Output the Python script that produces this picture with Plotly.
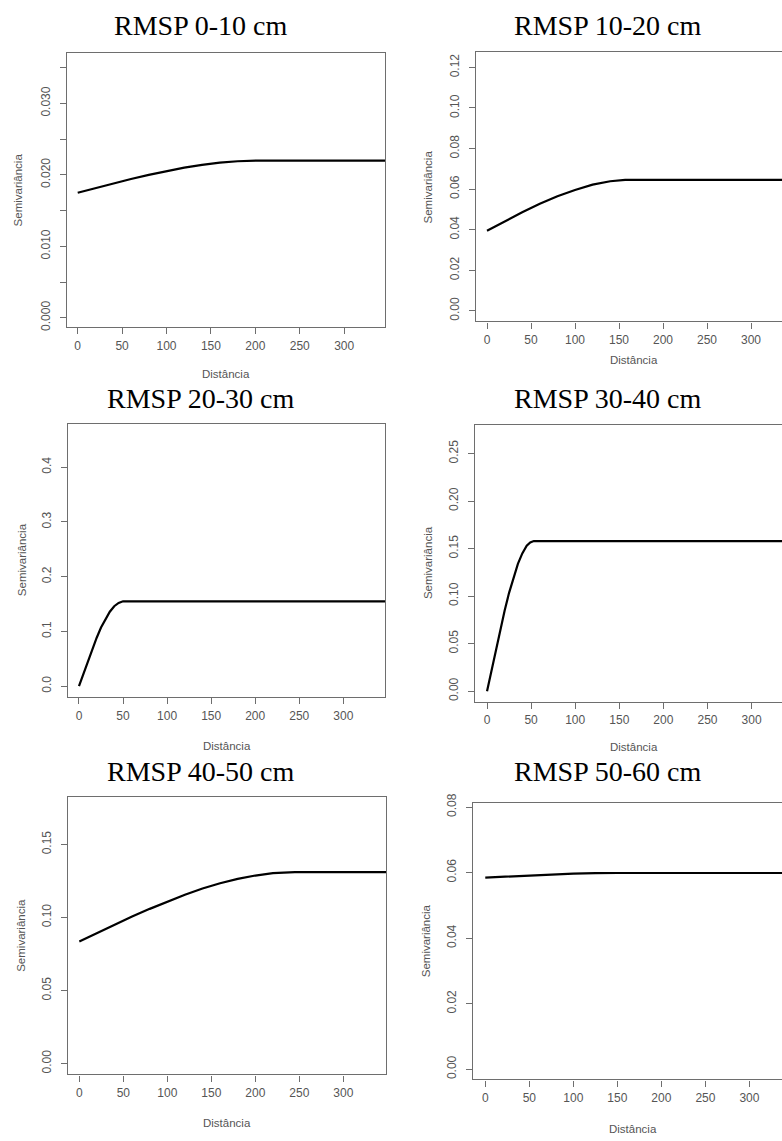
import plotly.graph_objects as go

W, H = 782, 1141

# Fitted semivariogram curves (distance in m, semivariance)
titles = ["RMSP 0-10 cm", "RMSP 10-20 cm", "RMSP 20-30 cm",
          "RMSP 30-40 cm", "RMSP 40-50 cm", "RMSP 50-60 cm"]

dist_0_10 = [0, 20, 40, 60, 80, 100, 120, 140, 160, 180, 200, 205, 350]
gamma_0_10 = [0.0175, 0.01816, 0.0188, 0.01942, 0.0200, 0.02053, 0.0210, 0.02139,
              0.0217, 0.0219, 0.0220, 0.0220, 0.0220]

dist_10_20 = [0, 20, 40, 60, 80, 100, 120, 140, 157, 350]
gamma_10_20 = [0.0395, 0.0442, 0.0486, 0.0528, 0.0565, 0.0596, 0.0622, 0.0639, 0.0646, 0.0646]

dist_20_30 = [0, 5, 10, 15, 20, 25, 30, 35, 40, 45, 50, 350]
gamma_20_30 = [0.0, 0.023, 0.046, 0.068, 0.088, 0.107, 0.123, 0.136, 0.146, 0.152, 0.155, 0.155]

dist_30_40 = [0, 5, 10, 15, 20, 25, 30, 35, 40, 45, 49, 53, 350]
gamma_30_40 = [0.0, 0.022, 0.044, 0.065, 0.085, 0.1035, 0.120, 0.134, 0.145, 0.153, 0.1565, 0.158, 0.158]

dist_40_50 = [0, 20, 40, 60, 80, 100, 120, 140, 160, 180, 200, 220, 245, 350]
gamma_40_50 = [0.0835, 0.0893, 0.0950, 0.1006, 0.1059, 0.1110, 0.1156, 0.1198, 0.1234,
               0.1264, 0.1287, 0.1303, 0.1310, 0.1310]

dist_50_60 = [0, 25, 50, 75, 100, 125, 150, 350]
gamma_50_60 = [0.0585, 0.05885, 0.0592, 0.0595, 0.0597, 0.05985, 0.0599, 0.0599]

x_ticks = [0, 50, 100, 150, 200, 250, 300]
y_ticks = [
    [0.000, 0.005, 0.010, 0.015, 0.020, 0.025, 0.030, 0.035],
    [0.00, 0.02, 0.04, 0.06, 0.08, 0.10, 0.12],
    [0.0, 0.1, 0.2, 0.3, 0.4],
    [0.00, 0.05, 0.10, 0.15, 0.20, 0.25],
    [0.00, 0.05, 0.10, 0.15],
    [0.00, 0.02, 0.04, 0.06, 0.08],
]
y_tick_text = [
    ["0.000", "", "0.010", "", "0.020", "", "0.030", ""],
    ["0.00", "0.02", "0.04", "0.06", "0.08", "0.10", "0.12"],
    ["0.0", "0.1", "0.2", "0.3", "0.4"],
    ["0.00", "0.05", "0.10", "0.15", "0.20", "0.25"],
    ["0.00", "0.05", "0.10", "0.15"],
    ["0.00", "0.02", "0.04", "0.06", "0.08"],
]

series = [(dist_0_10, gamma_0_10), (dist_10_20, gamma_10_20), (dist_20_30, gamma_20_30),
          (dist_30_40, gamma_30_40), (dist_40_50, gamma_40_50), (dist_50_60, gamma_50_60)]

# Plot boxes in pixels: left, top, right, bottom
boxes = [(66.7, 45, 385, 322), (476, 43.3, 782, 316),
         (67.7, 419.3, 385, 696), (475.3, 421, 782, 700.7),
         (68.3, 797.3, 386, 1077.7), (473.3, 802.7, 782, 1082.7)]
x_ranges = [(-12.4, 346), (-12.5, 335.2), (-12.8, 347.3),
            (-13.3, 334.5), (-12.5, 348.5), (-13.6, 337)]
y_ranges = [(-0.00134, 0.03698), (-0.0052, 0.1277), (-0.0199, 0.4796),
            (-0.0111, 0.2799), (-0.0074, 0.1823), (-0.0031, 0.0814)]
title_pos = [(200, 17), (607, 17), (200, 394), (607, 394), (200, 771.5), (607, 771.5)]
xlabel_pos = [(226, 369.5), (633.5, 355), (226.5, 745), (633.5, 746), (226.5, 1126.5), (632.5, 1133)]
ylabel_pos = [(18, 183.5), (427.5, 180), (21.5, 557), (427.5, 560), (21.5, 937), (426, 943)]

FRAME = "#6e6e6e"
TEXT = "#555555"
SANS = "Liberation Sans, Arial, sans-serif"
SERIF = "Liberation Serif, Times New Roman, serif"

fig = go.Figure()
annotations = []
layout = {}

for i, (xs, ys) in enumerate(series):
    n = "" if i == 0 else str(i + 1)
    fig.add_trace(go.Scatter(x=xs, y=ys, mode="lines", xaxis="x" + n, yaxis="y" + n,
                             line=dict(color="black", width=2.2), showlegend=False,
                             hoverinfo="skip"))
    l, t, r, b = boxes[i]
    right_col = i % 2 == 1
    layout["xaxis" + n] = dict(
        domain=[l / W, r / W], anchor="y" + n, range=list(x_ranges[i]),
        tickvals=x_ticks, ticks="outside", ticklen=6, tickwidth=1.2, tickcolor=FRAME,
        showline=True, linecolor=FRAME, linewidth=1.3, mirror=True,
        showgrid=False, zeroline=False, ticklabelstandoff=1,
        tickfont=dict(family=SANS, size=12, color=TEXT),
    )
    layout["yaxis" + n] = dict(
        domain=[1 - b / H, 1 - t / H], anchor="x" + n, range=list(y_ranges[i]),
        tickvals=y_ticks[i], ticktext=y_tick_text[i], tickangle=-90,
        ticks="outside", ticklen=6, tickwidth=1.2, tickcolor=FRAME,
        showline=True, linecolor=FRAME, linewidth=1.3, mirror=not right_col,
        showgrid=False, zeroline=False, ticklabelstandoff=5,
        tickfont=dict(family=SANS, size=12, color=TEXT),
    )
    tx, ty = title_pos[i]
    annotations.append(dict(text=titles[i], x=tx / W, y=1 - ty / H, xref="paper", yref="paper",
                            xanchor="center", yanchor="middle", showarrow=False,
                            font=dict(family=SERIF, size=28, color="black")))
    lx, ly = xlabel_pos[i]
    annotations.append(dict(text="Distância", x=lx / W, y=1 - ly / H, xref="paper", yref="paper",
                            xanchor="center", yanchor="middle", showarrow=False,
                            font=dict(family=SANS, size=11.5, color=TEXT)))
    vx, vy = ylabel_pos[i]
    annotations.append(dict(text="Semivariância", x=vx / W, y=1 - vy / H, xref="paper", yref="paper",
                            xanchor="center", yanchor="middle", showarrow=False, textangle=-90,
                            font=dict(family=SANS, size=11.5, color=TEXT)))

fig.update_layout(
    width=W, height=H, margin=dict(l=0, r=0, t=0, b=0),
    paper_bgcolor="white", plot_bgcolor="white",
    annotations=annotations, **layout,
)

fig.write_html("out.html")
